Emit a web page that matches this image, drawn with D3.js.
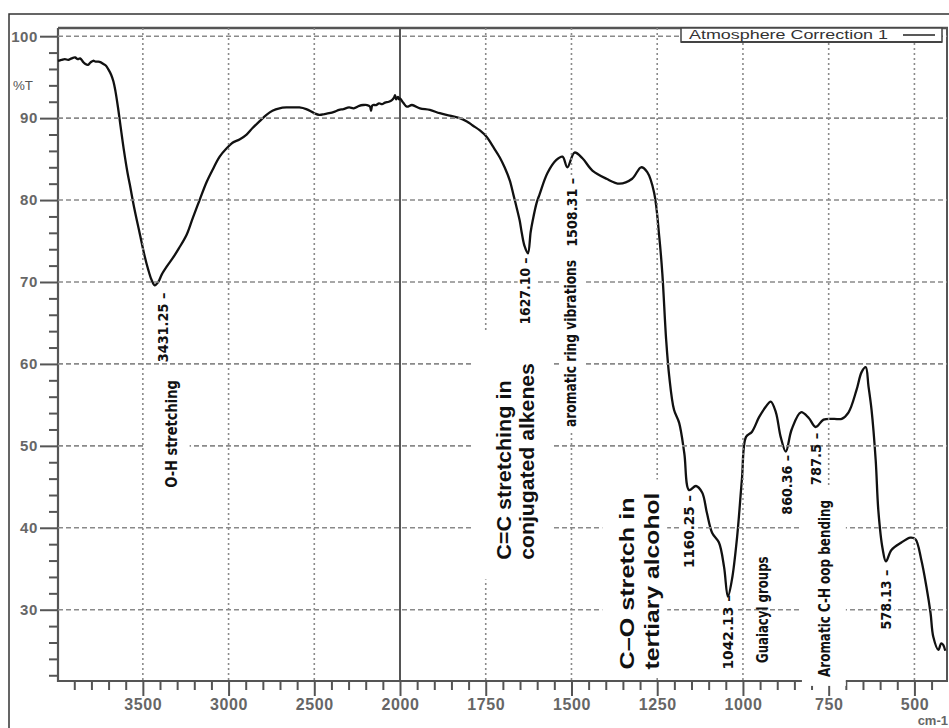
<!DOCTYPE html>
<html><head><meta charset="utf-8">
<script src="https://cdn.jsdelivr.net/npm/d3@7"></script>
<style>body{margin:0;background:#fff}svg{display:block}</style>
</head><body>
<svg id="c" width="949" height="728"></svg>
<script>
// ---------- data ----------
const wavenumbers = [3995,3975,3955,3935,3915,3895,3880,3866,3850,3835,3820,3805,3790,3775,3760,3745,3730,3715,3700,3685,3672,3660,3645,3630,3610,3590,3576,3550,3517,3490,3470,3450,3431,3410,3390,3360,3326,3290,3244,3209,3169,3128,3093,3052,3012,2977,2936,2895,2860,2820,2779,2744,2703,2663,2620,2587,2547,2500,2471,2440,2413,2380,2355,2330,2297,2270,2238,2215,2192,2175,2169,2163,2157,2140,2122,2105,2087,2065,2047,2035,2029,2022,2012,2005,2000,1991,1980,1965,1942,1913,1884,1855,1826,1805,1788,1767,1747,1730,1709,1695,1680,1669,1660,1651,1645,1637,1627,1619,1613,1602,1593,1570,1544,1526,1512,1491,1468,1439,1398,1360,1323,1297,1279,1259,1244,1235,1224,1215,1201,1186,1171,1157,1137,1119,1105,1090,1070,1055,1044,1032,1017,1003,991,974,953,933,919,904,890,875,858,831,808,788,765,735,712,692,669,654,642,634,625,613,605,593,583,567,538,512,497,480,465,453,445,430,422,416,410];
const transmittance = [97.0,97.1,97.2,97.1,97.3,97.4,97.2,97.3,96.9,96.6,96.5,96.8,97.0,96.9,96.9,96.8,96.6,96.4,95.9,95.3,94.5,93.3,91.3,89.0,86.0,83.4,81.9,79.0,75.8,73.2,71.6,70.3,69.6,70.0,70.9,71.9,72.9,74.1,75.8,77.8,80.0,82.2,83.7,85.3,86.3,87.0,87.4,88.0,88.8,89.6,90.4,90.9,91.2,91.3,91.3,91.3,91.1,90.6,90.4,90.5,90.6,90.8,91.0,91.1,91.3,91.2,91.5,91.6,91.6,91.4,90.9,91.5,91.6,91.6,91.8,91.7,91.9,92.0,92.2,92.5,92.8,92.3,92.6,92.3,92.4,91.9,91.4,91.6,91.2,91.0,90.6,90.3,90.0,89.6,89.1,88.5,87.7,86.6,85.2,84.0,82.4,80.6,79.1,77.5,76.0,74.4,73.5,76.1,77.5,79.6,80.7,83.3,84.9,85.3,84.0,85.8,85.1,83.6,82.6,82.0,82.6,84.0,83.4,80.9,75.5,71.0,63.0,58.5,54.4,52.8,49.1,44.6,45.1,44.3,41.8,39.4,38.2,35.2,31.6,33.7,38.9,45.9,51.1,51.7,53.5,54.8,55.4,54.1,51.1,49.3,52.0,54.1,53.4,52.3,53.2,53.3,53.3,54.1,56.8,59.0,59.6,57.3,54.4,48.3,42.0,37.5,35.9,37.3,38.2,38.8,38.6,36.1,32.8,29.6,26.7,25.1,25.9,25.7,25.0];

const xMajorTicks = [3500,3000,2500,2000,1750,1500,1250,1000,750,500];
const xGridTicks = [3500,3000,2500,1750,1500,1250,1000,750,500];
const yMajorTicks = [30,40,50,60,70,80,90,100];
const yAxisLabel = "%T";
const xAxisUnit = "cm-1";
const legendLabel = "Atmosphere Correction 1";

// annotation text: at = wavenumber of baseline, from/to = %T span of the rotated text
const peakLabels = [
  {text:"3431.25 –", at:3355, from:60.2, to:68.7},
  {text:"1627.10 –", at:1622, from:64.8, to:73.0},
  {text:"1508.31 –", at:1485, from:74.3, to:82.7},
  {text:"1160.25 –", at:1143, from:35.1, to:44.0},
  {text:"1042.13 –", at:1029, from:22.7, to:31.8},
  {text:"860.36 –",  at:858,  from:41.6, to:48.9},
  {text:"787.5 –",   at:773,  from:45.2, to:51.6},
  {text:"578.13 –",  at:567,  from:27.6, to:34.9}
];
const bandLabels = [
  {text:"O-H stretching", at:3302, from:44.9, to:58.0},
  {text:"aromatic ring vibrations", at:1488, from:52.3, to:72.7},
  {text:"Guaiacyl groups", at:927, from:23.5, to:36.5},
  {text:"Aromatic C-H oop bending", at:747, from:21.8, to:43.4}
];
const noteLabels = [
  {text:"C=C stretching in", at:1677, from:36.1, to:58.0},
  {text:"conjugated alkenes", at:1610, from:36.1, to:60.1},
  {text:"C–O stretch in", at:1317, from:22.7, to:43.7},
  {text:"tertiary alcohol", at:1244, from:22.7, to:44.3}
];
// blank patches behind pasted labels: [w1, w2, T1, T2]
const maskBoxes = [
  [3488,3227,59.0,44.0],
  [1788,1555,63.9,33.7],
  [1657,1602,73.3,64.1],
  [1535,1462,83.0,51.9],
  [1410,1221,45.9,21.9],
  [1183,1131,44.4,34.6],
  [1070,1017,32.2,22.0],
  [828,700,45.0,20.7],
  [608,558,35.4,27.1]
];

// ---------- layout ----------
const L = 58, R = 947, T = 28, B = 681;
const svg = d3.select("#c");
svg.append("rect").attr("width",949).attr("height",728).attr("fill","#fff");
svg.append("rect").attr("x",9).attr("y",14).attr("width",960).attr("height",740)
  .attr("fill","none").attr("stroke","#333").attr("stroke-width",1.5);

const x = d3.scaleLinear().domain([3995,2000,405]).range([L,400,R]);
const y = d3.scaleLinear().domain([21.3,101]).range([B,T]);

const axisCol = "#555", gridCol = "#8a8a8a", labCol = "#666";

// mask definition that removes grid behind labels
const defs = svg.append("defs");
const gm = defs.append("mask").attr("id","gridMask").attr("maskUnits","userSpaceOnUse")
  .attr("x",0).attr("y",0).attr("width",949).attr("height",728);
gm.append("rect").attr("x",0).attr("y",0).attr("width",949).attr("height",728).attr("fill","#fff");
gm.selectAll("rect.hole").data(maskBoxes).join("rect").attr("class","hole")
  .attr("x",d=>x(d[0])).attr("width",d=>x(d[1])-x(d[0]))
  .attr("y",d=>y(d[2])).attr("height",d=>y(d[3])-y(d[2]))
  .attr("fill","#000");

// axes
const xMinor = d3.range(3900,2000,-100).concat(d3.range(1950,400,-50)).filter(v=>!xMajorTicks.includes(v));
const yMinor = d3.range(22,100,2).filter(v=>!yMajorTicks.includes(v));

function styleAxis(sel){
  sel.select(".domain").remove();
  sel.selectAll(".tick line").attr("stroke",axisCol).attr("stroke-width",2);
  sel.selectAll(".tick text").attr("fill",labCol).attr("font-family","Liberation Sans, Arial, sans-serif")
     .attr("font-weight","bold");
}
svg.append("g").attr("transform",`translate(0,${B})`)
  .call(d3.axisBottom(x).tickValues(xMinor).tickSize(9).tickFormat(""))
  .call(styleAxis);
const xa = svg.append("g").attr("transform",`translate(0,${B})`)
  .call(d3.axisBottom(x).tickValues(xMajorTicks).tickSize(15).tickPadding(3).tickFormat(d3.format("d")))
  .call(styleAxis);
xa.selectAll(".tick text").attr("font-size",16).attr("letter-spacing","0.6px");

svg.append("g").attr("transform",`translate(${L},0)`)
  .call(d3.axisLeft(y).tickValues(yMinor).tickSize(9).tickFormat(""))
  .call(styleAxis);
const ya = svg.append("g").attr("transform",`translate(${L},0)`)
  .call(d3.axisLeft(y).tickValues(yMajorTicks).tickSize(18).tickPadding(2).tickFormat(d3.format("d")))
  .call(styleAxis);
ya.selectAll(".tick text").attr("font-size",15).attr("letter-spacing","0.6px");

// white patch over the axis where the oop-bending label was pasted
const axisPatch = maskBoxes[7];
svg.append("rect").attr("x",x(axisPatch[0])).attr("width",x(axisPatch[1])-x(axisPatch[0]))
  .attr("y",y(axisPatch[2])).attr("height",y(axisPatch[3])-y(axisPatch[2])).attr("fill","#fff");

// frame lines
svg.append("line").attr("x1",L).attr("x2",L).attr("y1",T).attr("y2",B+1).attr("stroke",axisCol).attr("stroke-width",2.2);
svg.append("line").attr("x1",L-1).attr("x2",x(828)).attr("y1",B).attr("y2",B).attr("stroke",axisCol).attr("stroke-width",2.2);
svg.append("line").attr("x1",x(700)).attr("x2",R+1).attr("y1",B).attr("y2",B).attr("stroke",axisCol).attr("stroke-width",2.2);
svg.append("line").attr("x1",L).attr("x2",R+1).attr("y1",T).attr("y2",T).attr("stroke",axisCol).attr("stroke-width",2.5);
svg.append("line").attr("x1",R).attr("x2",R).attr("y1",T).attr("y2",B).attr("stroke",axisCol).attr("stroke-width",2);
svg.append("line").attr("x1",x(2000)).attr("x2",x(2000)).attr("y1",T).attr("y2",B)
  .attr("stroke","#555").attr("stroke-width",2);

// spectrum
const pts = wavenumbers.map((w,i)=>[w,transmittance[i]]);
svg.append("path").datum(pts)
  .attr("d",d3.line().x(d=>x(d[0])).y(d=>y(d[1])).curve(d3.curveCatmullRom.alpha(0.5)))
  .attr("fill","none").attr("stroke","#111").attr("stroke-width",2.3).attr("stroke-linejoin","round");

// grid (masked around the labels)
const grid = svg.append("g").attr("mask","url(#gridMask)");
yMajorTicks.forEach(v=>{
  grid.append("path").attr("d",`M${L},${y(v)}H${R}`)
    .attr("stroke",gridCol).attr("stroke-width",1.6).attr("stroke-dasharray","5 3").attr("fill","none");
});
xGridTicks.forEach(v=>{
  grid.append("path").attr("d",`M${x(v)},${T}V${B}`)
    .attr("stroke",gridCol).attr("stroke-width",1.6).attr("stroke-dasharray","2 3").attr("fill","none");
});

// rotated labels
function drawLabels(list, family, size, weight){
  svg.append("g").selectAll("text").data(list).join("text")
    .attr("transform",d=>`translate(${x(d.at)},${y(d.from)}) rotate(-90)`)
    .attr("font-family",family).attr("font-size",size).attr("font-weight",weight)
    .attr("fill","#111")
    .attr("textLength",d=>y(d.from)-y(d.to)).attr("lengthAdjust","spacingAndGlyphs")
    .text(d=>d.text);
}
const narrow = "'Liberation Sans Narrow','Arial Narrow','DejaVu Sans Condensed',sans-serif";
drawLabels(peakLabels, narrow, 14, "bold");
drawLabels(bandLabels, narrow, 15, "bold");
drawLabels(noteLabels, "'Liberation Sans',Arial,sans-serif", 20, "bold");

svg.append("text").attr("x",13).attr("y",90).attr("font-family","Liberation Sans, Arial, sans-serif")
  .attr("font-size",12).attr("fill","#555").attr("textLength",20).attr("lengthAdjust","spacingAndGlyphs").text(yAxisLabel);
svg.append("text").attr("x",948).attr("y",725).attr("text-anchor","end")
  .attr("font-family","Liberation Sans, Arial, sans-serif").attr("font-weight","bold")
  .attr("font-size",13).attr("fill","#666").text(xAxisUnit);

// legend
const lg = svg.append("g");
lg.append("rect").attr("x",681).attr("y",T).attr("width",261).attr("height",14)
  .attr("fill","#fff").attr("stroke","#444").attr("stroke-width",1.5);
lg.append("line").attr("x1",681).attr("x2",942).attr("y1",T+14).attr("y2",T+14).attr("stroke","#444").attr("stroke-width",2);
lg.append("text").attr("x",689).attr("y",T+11).attr("font-family","Liberation Sans, Arial, sans-serif")
  .attr("font-size",13).attr("fill","#333").attr("textLength",199).attr("lengthAdjust","spacingAndGlyphs").text(legendLabel);
lg.append("line").attr("x1",903).attr("x2",935).attr("y1",T+7).attr("y2",T+7).attr("stroke","#222").attr("stroke-width",1.5);
</script>
</body></html>
